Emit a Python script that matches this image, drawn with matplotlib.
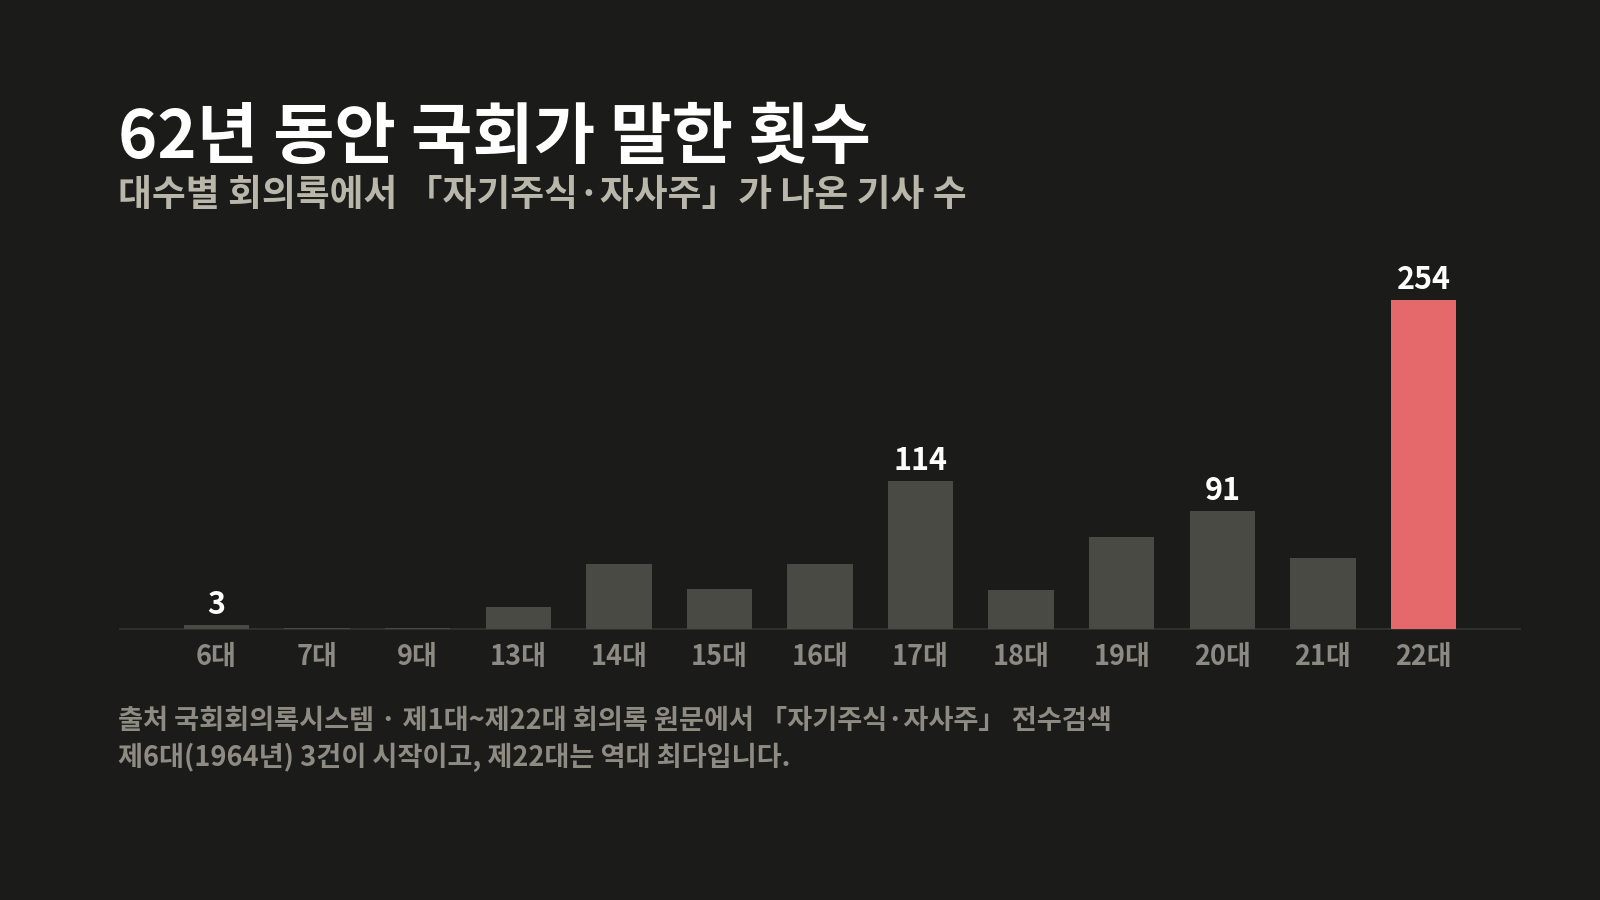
import matplotlib
matplotlib.use("Agg")
import matplotlib.pyplot as plt

plt.rcParams['font.family'] = ['Noto Sans CJK KR', 'DejaVu Sans']

categories = ["6대", "7대", "9대", "13대", "14대", "15대", "16대", "17대", "18대", "19대", "20대", "21대", "22대"]
values = [3, 1, 1, 17, 50, 31, 50, 114, 30, 71, 91, 55, 254]
labeled = ["6대", "17대", "20대", "22대"]
highlight = "22대"

title = "62년 동안 국회가 말한 횟수"
subtitle = "대수별 회의록에서 「자기주식·자사주」가 나온 기사 수"
note1 = "출처 국회회의록시스템 · 제1대~제22대 회의록 원문에서 「자기주식·자사주」 전수검색"
note2 = "제6대(1964년) 3건이 시작이고, 제22대는 역대 최다입니다."

BG = "#1b1b1a"
BAR = "#4a4a45"
RED = "#e5686a"

fig = plt.figure(figsize=(16, 9), dpi=100, facecolor=BG)
ax = fig.add_axes([0.075, 0.301, 0.875, 0.403], facecolor=BG)

x = list(range(len(categories)))
colors = [RED if c == highlight else BAR for c in categories]
ax.bar(x, values, width=0.65, color=colors, zorder=3)

for xi, c, v in zip(x, categories, values):
    if c in labeled:
        ax.annotate(str(v), (xi, v), xytext=(0, 3), textcoords="offset points",
                    ha="center", va="bottom", color="white", fontsize=22, fontweight="bold")

ax.set_xlim(-0.96, len(categories) - 1 + 0.96)
ax.set_ylim(0, 280)
ax.set_xticks(x)
ax.set_xticklabels(categories, color="#8c8a82", fontsize=19.5, fontweight="bold")
ax.tick_params(axis="x", length=0, pad=10)
ax.set_yticks([])
for s in ["top", "right", "left"]:
    ax.spines[s].set_visible(False)
ax.spines["bottom"].set_color("#34342f")
ax.spines["bottom"].set_linewidth(1.2)

fig.text(0.074, 0.846, title, color="white", fontsize=48, fontweight="bold", va="center", ha="left")
fig.text(0.074, 0.783, subtitle, color="#b9b6aa", fontsize=26.5, fontweight="bold", va="center", ha="left")
fig.text(0.074, 0.199, note1, color="#8e8b83", fontsize=19.6, fontweight="bold", va="center", ha="left")
fig.text(0.074, 0.159, note2, color="#8e8b83", fontsize=19.6, fontweight="bold", va="center", ha="left")

fig.savefig("out.png", dpi=100, facecolor=BG)
